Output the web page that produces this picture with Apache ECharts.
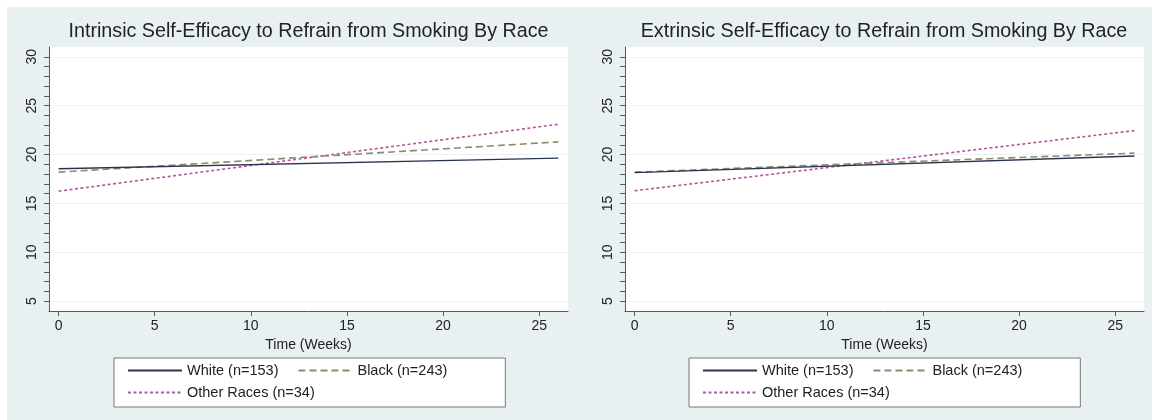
<!DOCTYPE html>
<html>
<head>
<meta charset="utf-8">
<script src="https://cdn.jsdelivr.net/npm/echarts@6/dist/echarts.min.js"></script>
<style>
  html, body { margin: 0; padding: 0; background: #ffffff; }
  #wrap { position: relative; width: 1152px; height: 420px; background: #ffffff; }
  #bg { position: absolute; left: 7px; top: 7px; width: 1145px; height: 413px; background: #e8f0f2; }
  #chart { position: absolute; left: 0; top: 0; width: 1152px; height: 420px; }
</style>
</head>
<body>
<div id="wrap"><div id="bg"></div><div id="chart"></div></div>
<script>
// ---- data ----
const weeks = [0, 26];
const intrinsicWhite = [18.55, 19.63];
const intrinsicBlack = [18.2, 21.3];
const intrinsicOther = [16.25, 23.1];
const extrinsicWhite = [18.15, 19.85];
const extrinsicBlack = [18.2, 20.15];
const extrinsicOther = [16.3, 22.45];

const titles = [
  'Intrinsic Self-Efficacy to Refrain from Smoking By Race',
  'Extrinsic Self-Efficacy to Refrain from Smoking By Race'
];
const seriesNames = ['White (n=153)', 'Black (n=243)', 'Other Races (n=34)'];
const xTickLabels = [0, 5, 10, 15, 20, 25];
const yTickLabels = [5, 10, 15, 20, 25, 30];
const yMinorTicks = [5, 6, 7, 8, 9, 10, 11, 12, 13, 14, 15, 16, 17, 18, 19, 20, 21, 22, 23, 24, 25, 26, 27, 28, 29, 30];
const xAxisTitle = 'Time (Weeks)';

// ---- styling ----
const FONT = '"Liberation Sans", Arial, Helvetica, sans-serif';
const colWhite = '#2a3550';
const colBlack = '#8c8b6c';
const colOther = '#b8539c';
const axisCol = '#5a5a5a';
const textCol = '#222222';

const panels = [
  { left: 49, width: 519, vals: [intrinsicWhite, intrinsicBlack, intrinsicOther], titleX: 308.5, legendX: 114 },
  { left: 625, width: 519, vals: [extrinsicWhite, extrinsicBlack, extrinsicOther], titleX: 884, legendX: 689 }
];

function pairs(xs, ys) { return xs.map((x, i) => [x, ys[i]]); }

const option = {
  animation: false,
  backgroundColor: 'transparent',
  textStyle: { fontFamily: FONT },
  title: panels.map((p, i) => ({
    text: titles[i],
    left: p.titleX,
    top: 22,
    textAlign: 'center',
    padding: 0,
    textStyle: { fontFamily: FONT, fontSize: 19.7, fontWeight: 'normal', color: textCol }
  })),
  grid: panels.map(p => ({
    left: p.left, top: 47, width: p.width, height: 264,
    show: true, backgroundColor: '#ffffff', borderWidth: 0
  })),
  xAxis: panels.map((p, i) => ({
    type: 'value', gridIndex: i, min: -0.5, max: 26.5,
    name: xAxisTitle, nameLocation: 'middle', nameGap: 23,
    nameTextStyle: { fontFamily: FONT, fontSize: 14, color: textCol },
    axisLine: { show: true, onZero: false, lineStyle: { color: axisCol, width: 1 } },
    axisTick: { show: true, length: 5, customValues: xTickLabels, lineStyle: { color: axisCol } },
    axisLabel: { customValues: xTickLabels, margin: 8, fontFamily: FONT, fontSize: 14, color: textCol },
    splitLine: { show: false }
  })),
  yAxis: [],
  legend: [],
  series: []
};

panels.forEach((p, i) => {
  // main y axis: labels, major ticks, grid lines
  option.yAxis.push({
    type: 'value', gridIndex: i, min: 4, max: 31, position: 'left',
    axisLine: { show: true, onZero: false, lineStyle: { color: axisCol, width: 1 } },
    axisTick: { show: true, length: 5, customValues: yTickLabels, lineStyle: { color: axisCol } },
    axisLabel: { customValues: yTickLabels, rotate: 90, margin: 10, fontFamily: FONT, fontSize: 14, color: textCol },
    splitLine: { show: true, lineStyle: { color: '#edf2f4', width: 1 } }
  });
});
panels.forEach((p, i) => {
  // secondary y axis: minor ticks only
  option.yAxis.push({
    type: 'value', gridIndex: i, min: 4, max: 31, position: 'left', offset: 0,
    axisLine: { show: false, onZero: false },
    axisTick: { show: true, length: 5, customValues: yMinorTicks, lineStyle: { color: axisCol } },
    axisLabel: { show: false },
    splitLine: { show: false }
  });
});

panels.forEach((p, i) => {
  const styles = [
    { color: colWhite, type: 'solid', width: 1.3 },
    { color: colBlack, type: [7, 4], width: 1.6 },
    { color: colOther, type: [3, 2.5], width: 1.6 }
  ];
  seriesNames.forEach((name, k) => {
    option.series.push({
      type: 'line', name: name, xAxisIndex: i, yAxisIndex: i,
      data: pairs(weeks, p.vals[k]),
      symbol: 'none', showSymbol: false,
      lineStyle: styles[k], itemStyle: { color: styles[k].color },
      z: 3 + (2 - k)
    });
  });
  // row 1 legend (its box covers both rows)
  option.legend.push({
    data: [seriesNames[0], seriesNames[1]],
    left: p.legendX, top: 358,
    orient: 'horizontal',
    itemWidth: 54, itemHeight: 14, itemGap: 19,
    padding: [5, 58, 29, 13],
    backgroundColor: '#ffffff', borderColor: '#777777', borderWidth: 1,
    itemStyle: { opacity: 0 },
    textStyle: { fontFamily: FONT, fontSize: 14.5, color: textCol },
    selectedMode: false,
    z: 4
  });
  option.legend.push({
    data: [seriesNames[2]],
    left: p.legendX + 13, top: 385,
    orient: 'horizontal',
    itemWidth: 54, itemHeight: 14,
    padding: 0,
    itemStyle: { opacity: 0 },
    textStyle: { fontFamily: FONT, fontSize: 14.5, color: textCol },
    selectedMode: false,
    z: 6
  });
});

const chart = echarts.init(document.getElementById('chart'), null, { renderer: 'canvas' });
chart.setOption(option);
</script>
</body>
</html>
